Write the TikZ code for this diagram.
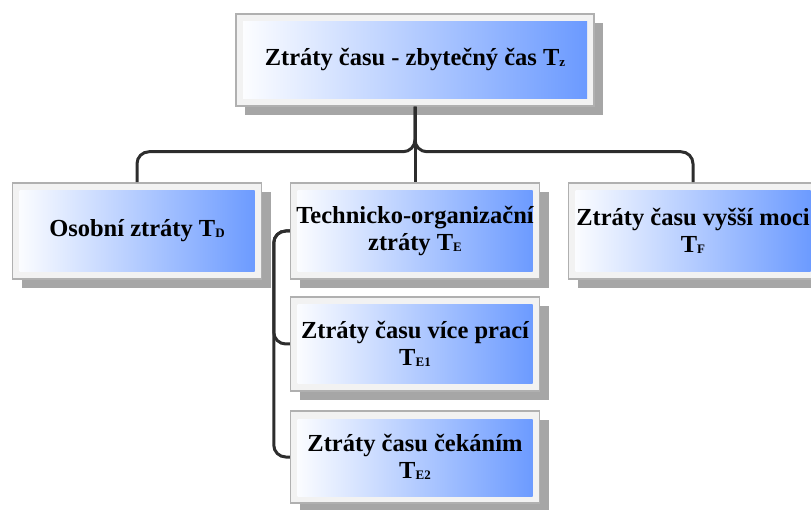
\documentclass[tikz,border=0pt]{standalone}
\usepackage{fontspec}
\setmainfont{Liberation Serif}[BoldFont={Liberation Serif Bold}]
\usetikzlibrary{shadows}
\definecolor{boxblue}{RGB}{104,152,255}
\definecolor{framegray}{RGB}{176,176,176}
\definecolor{bandgray}{RGB}{242,242,242}
\definecolor{shadowgray}{RGB}{166,166,166}
\definecolor{linegray}{RGB}{45,45,45}
\newcommand{\idx}[1]{\raisebox{-1pt}{\fontsize{13}{13}\selectfont #1}}

\begin{document}
\begin{tikzpicture}[x=1pt,y=-1pt,
  box/.style={draw=framegray, line width=1.5pt, fill=bandgray, minimum width=249pt, minimum height=96pt,
    inner sep=0pt, align=center, font=\bfseries\fontsize{24.5}{27}\selectfont,
    path picture={\shade[left color=white,right color=boxblue] ([shift={(7pt,-8pt)}]path picture bounding box.north west) rectangle ([shift={(-7pt,7pt)}]path picture bounding box.south east);},
    drop shadow={shadow xshift=9pt, shadow yshift=-9pt, opacity=1, fill=shadowgray}},
  link/.style={draw=linegray, line width=3pt, rounded corners=12pt}]
\useasboundingbox (0,0) rectangle (811,510);
\node[box, minimum width=358pt, minimum height=92pt] (total) at (415,60) {Ztráty času - zbytečný čas T\idx{z}};
\node[box] (osobni) at (137,231) {Osobní ztráty T\idx{D}};
\node[box] (tech) at (415,231) {Technicko-organizační\\ztráty T\idx{E}};
\node[box] (vyssi) at (693,231) {Ztráty času vyšší moci\\T\idx{F}};
\node[box, minimum height=94pt] (vice) at (415,344) {Ztráty času více prací\\T\idx{E1}};
\node[box, minimum height=92pt] (cekani) at (415,457) {Ztráty času čekáním\\T\idx{E2}};
\draw[link] (total.south) -- ++(0,45) -| (osobni.north);
\draw[link] (total.south) -- ++(0,45) -| (vyssi.north);
\draw[link] (total.south) -- (tech.north);
\draw[link] (tech.west) -- ++(-16,0) |- (vice.west);
\draw[link] (tech.west) -- ++(-16,0) |- (cekani.west);
\end{tikzpicture}
\end{document}
